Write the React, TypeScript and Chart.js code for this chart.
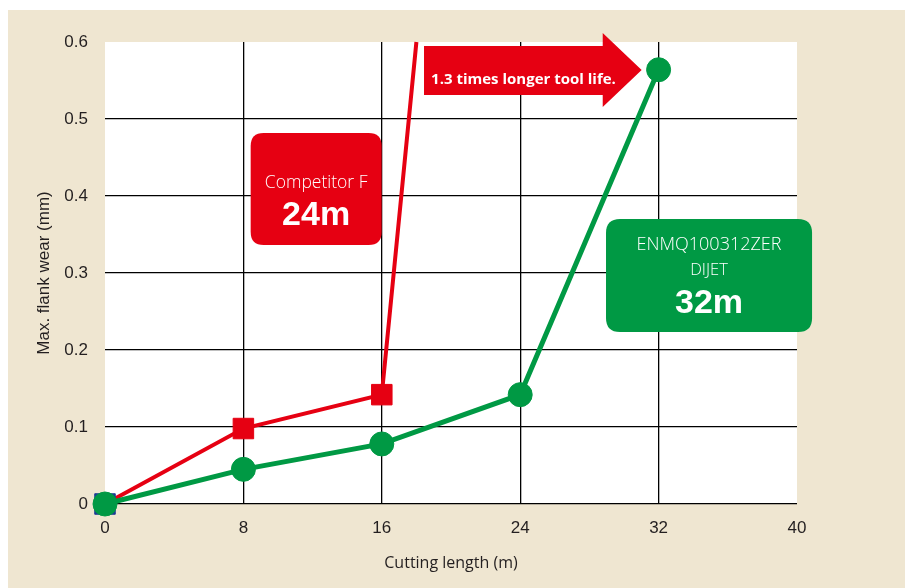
import React, { useEffect, useRef } from 'react';
import { Chart, registerables } from 'chart.js';

Chart.register(...registerables);

// ---- data ----
const cuttingLengthTicks = [0, 8, 16, 24, 32, 40];
const wearTicks = [0, 0.1, 0.2, 0.3, 0.4, 0.5, 0.6];
const dijetLength = [0, 8, 16, 24, 32];
const dijetWear = [0, 0.045, 0.078, 0.142, 0.564];
const competitorLength = [0, 8, 16, 18];
const competitorWear = [0, 0.098, 0.142, 0.6];
const competitorLabel = ['Competitor F', '24m'];
const dijetLabel = ['ENMQ100312ZER', 'DIJET', '32m'];
const arrowLabel = '1.3 times longer tool life.';
const xTitle = 'Cutting length (m)';
const yTitle = 'Max. flank wear (mm)';

const RED = '#e60012';
const GREEN = '#009944';
const NAVY = '#1d3f93';
const BEIGE = '#efe6d1';
const TEXT = '#231f20';

function rr(ctx: CanvasRenderingContext2D, x: number, y: number, w: number, h: number, r: number) {
  ctx.beginPath();
  ctx.moveTo(x + r, y);
  ctx.lineTo(x + w - r, y);
  ctx.quadraticCurveTo(x + w, y, x + w, y + r);
  ctx.lineTo(x + w, y + h - r);
  ctx.quadraticCurveTo(x + w, y + h, x + w - r, y + h);
  ctx.lineTo(x + r, y + h);
  ctx.quadraticCurveTo(x, y + h, x, y + h - r);
  ctx.lineTo(x, y + r);
  ctx.quadraticCurveTo(x, y, x + r, y);
  ctx.closePath();
}

const bgPlugin = {
  id: 'bg',
  beforeDraw(chart: any) {
    const { ctx, chartArea } = chart;
    ctx.save();
    ctx.fillStyle = BEIGE;
    ctx.fillRect(8, 10, chart.width - 8, chart.height - 10);
    ctx.fillStyle = '#ffffff';
    ctx.fillRect(chartArea.left, chartArea.top, chartArea.right - chartArea.left, chartArea.bottom - chartArea.top);
    ctx.restore();
  },
};

const annotationPlugin = {
  id: 'annotations',
  afterDatasetsDraw(chart: any) {
    const { ctx } = chart;
    const xs = chart.scales.x;
    const ys = chart.scales.y;
    const px = (v: number) => xs.getPixelForValue(v);
    const py = (v: number) => ys.getPixelForValue(v);
    ctx.save();
    ctx.textAlign = 'center';
    ctx.textBaseline = 'middle';

    // Competitor box
    {
      const x1 = px(8.42), x2 = px(15.99), y1 = py(0.4818), y2 = py(0.3364);
      ctx.fillStyle = RED;
      rr(ctx, x1, y1, x2 - x1, y2 - y1, 13);
      ctx.fill();
      ctx.fillStyle = '#ffffff';
      const cx = (x1 + x2) / 2;
      ctx.font = '300 17.5px "Open Sans"';
      ctx.fillText(competitorLabel[0], cx, py(0.4169));
      ctx.font = 'bold 34px "Liberation Sans", Arial';
      ctx.fillText(competitorLabel[1], cx, py(0.374));
    }

    // DIJET box
    {
      const x1 = px(28.96), x2 = px(40.87), y1 = py(0.370), y2 = py(0.2234);
      ctx.fillStyle = GREEN;
      rr(ctx, x1, y1, x2 - x1, y2 - y1, 14);
      ctx.fill();
      ctx.fillStyle = '#ffffff';
      const cx = (x1 + x2) / 2;
      ctx.font = '300 18px "Open Sans"';
      ctx.fillText(dijetLabel[0], cx, py(0.3364));
      ctx.font = '300 16.5px "Open Sans"';
      ctx.fillText(dijetLabel[1], cx, py(0.3039));
      ctx.font = 'bold 34px "Liberation Sans", Arial';
      ctx.fillText(dijetLabel[2], cx, py(0.2597));
    }

    // Arrow
    {
      const bx1 = px(18.44), bx2 = px(28.77), tip = px(31.02);
      const byTop = py(0.5948), byBot = py(0.5312);
      const hTop = py(0.6117), hBot = py(0.5156), tipY = py(0.5636);
      ctx.fillStyle = RED;
      ctx.beginPath();
      ctx.moveTo(bx1, byTop);
      ctx.lineTo(bx2, byTop);
      ctx.lineTo(bx2, hTop);
      ctx.lineTo(tip, tipY);
      ctx.lineTo(bx2, hBot);
      ctx.lineTo(bx2, byBot);
      ctx.lineTo(bx1, byBot);
      ctx.closePath();
      ctx.fill();
      ctx.fillStyle = '#ffffff';
      ctx.textAlign = 'left';
      ctx.font = 'bold 15px "Open Sans"';
      ctx.fillText(arrowLabel, px(18.85), py(0.5506));
    }
    ctx.restore();
  },
};

export default function App() {
  const ref = useRef<HTMLCanvasElement>(null);
  useEffect(() => {
    const canvas = ref.current!;
    const chart = new Chart(canvas, {
      type: 'line',
      data: {
        datasets: [
          {
            label: 'DIJET',
            data: dijetLength.map((x, i) => ({ x, y: dijetWear[i] })),
            borderColor: GREEN,
            backgroundColor: GREEN,
            borderWidth: 5,
            pointStyle: 'circle',
            pointRadius: 12,
            pointBorderWidth: 1,
            pointBackgroundColor: GREEN,
            pointBorderColor: GREEN,
            tension: 0,
            clip: false,
          },
          {
            label: 'Competitor F',
            data: competitorLength.map((x, i) => ({ x, y: competitorWear[i] })),
            borderColor: RED,
            backgroundColor: RED,
            borderWidth: 4,
            pointStyle: 'rect',
            pointRadius: [14.5, 14.5, 14.5, 0],
            pointBorderWidth: 1,
            pointBackgroundColor: [NAVY, RED, RED, RED],
            pointBorderColor: [NAVY, RED, RED, RED],
            tension: 0,
            clip: false,
          },
        ],
      } as any,
      options: {
        responsive: false,
        animation: false,
        events: [],
        devicePixelRatio: 1,
        layout: { padding: { left: 0, top: 42, right: 108, bottom: 0 } },
        plugins: { legend: { display: false }, tooltip: { enabled: false } },
        scales: {
          x: {
            type: 'linear',
            min: 0,
            max: 40,
            afterBuildTicks: (s: any) => {
              s.ticks = cuttingLengthTicks.map((v) => ({ value: v }));
            },
            afterFit: (s: any) => {
              s.height = 84;
            },
            border: { display: false },
            grid: {
              drawTicks: false,
              lineWidth: 1.3,
              color: (c: any) =>
                c.tick && (c.tick.value === 0 || c.tick.value === 40) ? 'rgba(0,0,0,0)' : '#000000',
            },
            ticks: {
              padding: 14,
              color: TEXT,
              autoSkip: false,
              maxRotation: 0,
              font: { family: '"Liberation Sans", Arial', size: 17 },
            },
            title: {
              display: true,
              text: xTitle,
              color: TEXT,
              font: { family: '"Open Sans"', size: 16 },
              padding: { top: 0, bottom: 15 },
            },
          },
          y: {
            type: 'linear',
            min: 0,
            max: 0.6,
            afterBuildTicks: (s: any) => {
              s.ticks = wearTicks.map((v) => ({ value: v }));
            },
            afterFit: (s: any) => {
              s.width = 105;
            },
            border: { display: false },
            grid: {
              drawTicks: false,
              lineWidth: 1.3,
              color: (c: any) =>
                c.tick && Math.abs(c.tick.value - 0.6) < 1e-9 ? 'rgba(0,0,0,0)' : '#000000',
            },
            ticks: {
              padding: 17,
              color: TEXT,
              autoSkip: false,
              font: { family: '"Liberation Sans", Arial', size: 17 },
              callback: (v: any) => (Number(v) === 0 ? '0' : Number(v).toFixed(1)),
            },
            title: {
              display: true,
              text: yTitle,
              color: TEXT,
              font: { family: '"Liberation Sans", Arial', size: 17 },
              padding: { top: 34, bottom: 0 },
            },
          },
        },
      } as any,
      plugins: [bgPlugin, annotationPlugin],
    });
    return () => chart.destroy();
  }, []);
  return (
    <div style={{ position: 'absolute', left: 0, top: 0, width: 905, height: 588 }}>
      <canvas ref={ref} width={905} height={588} style={{ display: 'block', width: 905, height: 588 }} />
    </div>
  );
}
